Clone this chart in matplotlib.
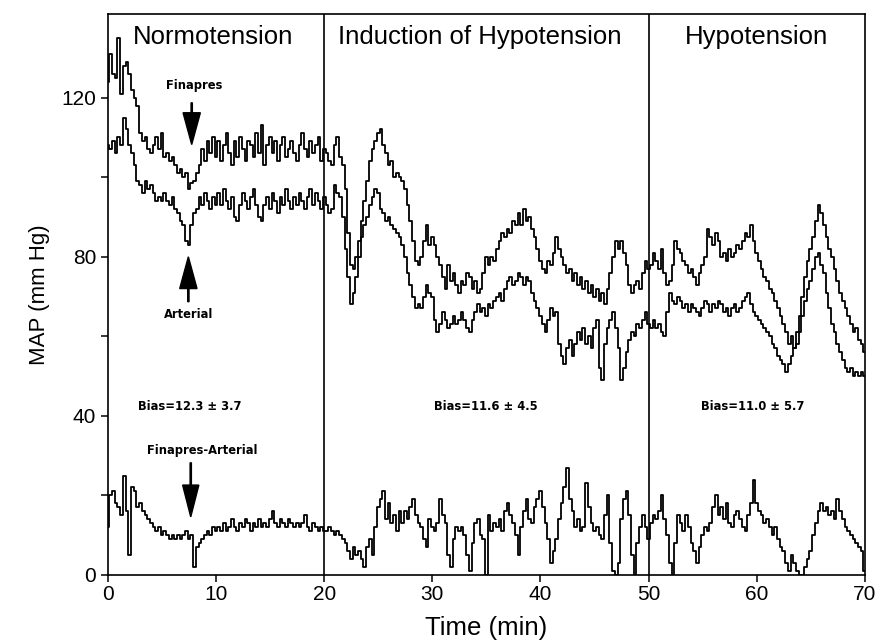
"""Finapres vs arterial MAP during induced hypotension (recreated trace figure)."""

import matplotlib
matplotlib.use("Agg")
import matplotlib.pyplot as plt
import numpy as np

plt.rcParams["font.family"] = ["Liberation Sans", "DejaVu Sans"]

# Samples every 0.25 min, 0..70 min (281 points).
time_min = np.linspace(0, 70, 281)

finapres = [
    # 0-10
    124, 131, 126, 125, 135, 121, 128, 129, 126, 122, 120, 118, 111, 109, 110, 107, 106, 108, 110, 107, 111,
    105, 106, 104, 105, 103, 101, 102, 100, 101, 97, 98.5, 99, 101, 103, 107, 104, 109, 106, 110, 105,
    # 10-20
    109, 104, 108, 111, 106, 103, 109, 105, 110, 107, 104, 109, 108, 105, 111, 106, 113, 103, 108, 110,
    106, 109, 104, 108, 110, 105, 107, 109, 106, 104, 108, 111, 107, 105, 109, 106, 108, 110, 104, 107,
    # 20-30
    106, 104, 103, 108, 110, 105, 103, 97, 86, 78, 77, 80, 84, 89, 94, 99, 104, 107, 109, 111,
    112, 108, 106, 103, 104, 100, 101, 100, 99, 97, 93, 89, 84, 79, 78, 80, 84, 88, 83, 85,
    # 30-40
    83, 80, 78, 75, 72, 78, 74, 76, 73, 71, 74, 73, 76, 75, 72, 74, 71, 72, 76, 80,
    78, 80, 79, 82, 84, 86, 85, 87, 86, 89, 88, 91, 88, 92, 89, 90, 87, 85, 82, 79,
    # 40-50
    77, 76, 79, 78, 81, 85, 82, 80, 78, 76, 77, 74, 76, 73, 75, 72, 74, 71, 73, 70,
    72, 69, 71, 68, 72, 76, 80, 84, 82, 84, 81, 78, 73, 71, 73, 74, 72, 76, 79, 77,
    # 50-60
    78, 81, 79, 77, 82, 76, 73, 74, 78, 84, 82, 81, 79, 78, 76, 77, 75, 73, 76, 78,
    80, 87, 85, 83, 86, 84, 80, 81, 79, 82, 80, 81, 83, 82, 84, 86, 85, 88, 84, 81,
    # 60-70
    79, 77, 75, 74, 72, 71, 69, 67, 65, 63, 61, 58, 60, 57, 61, 65, 70, 75, 79, 82,
    85, 89, 93, 91, 88, 85, 82, 80, 77, 74, 71, 69, 67, 65, 63, 61, 62, 59, 58, 56,
]

arterial = [
    # 0-10
    108, 107, 109, 106, 110, 108, 115, 112, 108, 106, 103, 99, 98, 96, 99, 97, 98, 96, 94, 95, 94,
    96, 94, 93, 95, 92, 91, 89, 88, 84, 83, 88, 91, 92, 95, 93, 96, 94, 92, 95, 93,
    # 10-20
    96, 93, 97, 94, 92, 95, 90, 89, 93, 96, 94, 92, 95, 97, 93, 90, 89, 93, 95, 92,
    96, 94, 91, 95, 93, 97, 94, 92, 95, 93, 96, 94, 92, 95, 97, 93, 96, 94, 92, 95,
    # 20-30
    93, 91, 92, 98, 96, 95, 90, 82, 75, 68, 71, 75, 80, 85, 88, 90, 93, 95, 97, 96,
    92, 91, 89, 90, 88, 87, 86, 85, 83, 80, 76, 73, 70, 67, 68, 67, 70, 73, 71, 70,
    # 30-40
    64, 61, 63, 66, 64, 62, 63, 65, 63, 64, 66, 64, 62, 61, 64, 66, 68, 66, 67, 65,
    68, 67, 69, 70, 71, 69, 72, 74, 75, 73, 74, 76, 75, 73, 75, 74, 71, 69, 67, 65,
    # 40-50
    63, 61, 64, 67, 65, 66, 58, 55, 53, 57, 59, 55, 58, 61, 59, 62, 58, 60, 57, 62,
    64, 52, 49, 58, 62, 64, 66, 62, 57, 49, 52, 56, 59, 61, 60, 63, 62, 64, 66, 63,
    # 50-60
    62, 64, 62, 63, 61, 60, 66, 71, 69, 68, 70, 69, 67, 68, 66, 68, 67, 66, 65, 67,
    69, 68, 66, 68, 67, 69, 68, 66, 67, 65, 67, 68, 66, 67, 69, 70, 71, 68, 66, 65,
    # 60-70
    64, 63, 62, 61, 60, 58, 57, 55, 54, 53, 51, 53, 55, 57, 58, 61, 65, 69, 72, 74,
    77, 80, 81, 78, 76, 71, 67, 63, 61, 58, 56, 54, 52, 51, 52, 50, 51, 50, 51, 50,
]

difference = [
    # 0-10
    12, 20, 21, 18, 17, 15, 25, 16, 5, 22, 21, 17, 18, 16, 15, 14, 13, 12, 11, 12, 10,
    11, 10, 9, 10, 9, 10, 9, 10, 11, 9, 10, 2, 7, 8, 9, 10, 11, 10, 12, 11,
    # 10-20
    12, 11, 13, 11, 12, 14, 12, 11, 13, 12, 14, 13, 11, 13, 12, 14, 12, 13, 12, 14,
    16, 13, 12, 14, 13, 12, 14, 13, 12, 13, 12, 13, 15, 12, 11, 13, 12, 11, 12, 11,
    # 20-30
    11, 12, 11, 10, 11, 10, 9, 8, 6, 4, 7, 5, 6, 4, 2, 7, 9, 5, 12, 17,
    19, 21, 14, 18, 13, 15, 11, 16, 13, 16, 14, 17, 19, 15, 13, 12, 9, 7, 14, 12,
    # 30-40
    11, 13, 19, 15, 13, 5, 2, 9, 12, 11, 12, 10, 5, 1, 8, 13, 14, 10, 9, 0,
    15, 11, 13, 12, 14, 11, 16, 18, 15, 13, 10, 5, 12, 16, 19, 14, 13, 17, 19, 21,
    # 40-50
    17, 13, 9, 3, 6, 9, 14, 18, 22, 27, 19, 16, 12, 14, 11, 12, 23, 17, 13, 11,
    12, 10, 9, 15, 20, 8, 1, 0, 3, 14, 19, 21, 15, 5, 0, 8, 12, 15, 12, 9,
    # 50-60
    13, 15, 14, 16, 20, 14, 10, 3, 0, 8, 15, 13, 11, 15, 12, 8, 6, 3, 7, 10,
    12, 11, 13, 17, 20, 15, 17, 14, 18, 13, 12, 15, 16, 14, 12, 11, 15, 18, 24, 18,
    # 60-70
    16, 15, 13, 14, 12, 10, 12, 9, 7, 6, 3, 1, 5, 3, 1, 0, 0, 2, 4, 6,
    10, 13, 16, 18, 16, 17, 15, 16, 14, 19, 16, 14, 12, 11, 10, 9, 8, 7, 6, 1,
]

phase_bounds = [20, 50]
phase_names = ["Normotension", "Induction of Hypotension", "Hypotension"]
phase_centers = [9.7, 34.4, 60.0]
bias_labels = ["Bias=12.3 ± 3.7", "Bias=11.6 ± 4.5", "Bias=11.0 ± 5.7"]
bias_centers = [7.6, 34.9, 59.6]


def main() -> None:
    fig = plt.figure(figsize=(8.79, 6.41), dpi=100)
    ax = fig.add_axes([0.1229, 0.103, 0.861, 0.875])

    # Самописец рисует ступеньками — steps-mid ближе к оригиналу.
    for series in (finapres, arterial, difference):
        ax.plot(time_min, series, color="black", lw=1.3, drawstyle="steps-mid")

    for xb in phase_bounds:
        ax.axvline(xb, color="black", lw=1.2)

    for name, xc in zip(phase_names, phase_centers):
        ax.text(xc, 135.3, name, ha="center", va="center", fontsize=18.5)

    small = dict(ha="center", va="center", fontsize=8.3, family="DejaVu Sans",
                 weight="bold")
    for label, xc in zip(bias_labels, bias_centers):
        ax.text(xc, 42.3, label, **small)

    # Подписи кривых со стрелками.
    ax.text(8.0, 123, "Finapres", **small)
    ax.arrow(7.74, 118.7, 0, -10.5, width=0.12, head_width=1.6, head_length=8,
             length_includes_head=True, color="black")
    ax.text(7.43, 65.4, "Arterial", **small)
    ax.arrow(7.43, 68.7, 0, 11.3, width=0.12, head_width=1.6, head_length=8,
             length_includes_head=True, color="black")
    ax.text(8.67, 31.4, "Finapres-Arterial", **small)
    ax.arrow(7.65, 28.2, 0, -13.6, width=0.12, head_width=1.5, head_length=8,
             length_includes_head=True, color="black")

    ax.set_xlim(0, 70)
    ax.set_ylim(0, 141)
    ax.set_xticks(range(0, 71, 10))
    ax.set_yticks([0, 40, 80, 120])
    ax.set_yticks([20, 60, 100], minor=True)
    ax.tick_params(axis="both", which="both", direction="out", length=5, width=1.1,
                   labelsize=15, colors="black")
    ax.tick_params(axis="x", pad=2)
    for sp in ax.spines.values():
        sp.set_linewidth(1.2)

    ax.set_xlabel("Time (min)", fontsize=18.5, labelpad=9)
    ax.set_ylabel("MAP (mm Hg)", fontsize=16, labelpad=8)

    fig.savefig("out.png", dpi=100)


if __name__ == "__main__":
    main()
